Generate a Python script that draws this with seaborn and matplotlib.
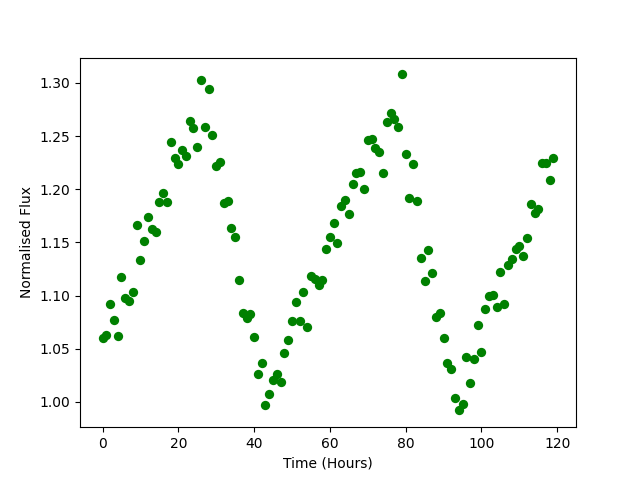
import matplotlib

matplotlib.use('Agg')
import matplotlib.pyplot as plt
import pandas as pd
import seaborn as sns

hours = list(range(120))

flux = [
    1.060, 1.063, 1.092, 1.077, 1.062, 1.117, 1.098, 1.095, 1.103, 1.166,
    1.133, 1.151, 1.174, 1.163, 1.160, 1.188, 1.196, 1.188, 1.244, 1.229,
    1.224, 1.237, 1.231, 1.264, 1.258, 1.240, 1.303, 1.259, 1.294, 1.251,
    1.222, 1.226, 1.187, 1.189, 1.164, 1.155, 1.115, 1.084, 1.079, 1.083,
    1.061, 1.026, 1.037, 0.997, 1.007, 1.021, 1.026, 1.019, 1.046, 1.058,
    1.076, 1.094, 1.076, 1.103, 1.070, 1.118, 1.116, 1.110, 1.115, 1.144,
    1.155, 1.168, 1.149, 1.184, 1.190, 1.177, 1.205, 1.215, 1.216, 1.200,
    1.246, 1.247, 1.239, 1.235, 1.215, 1.263, 1.272, 1.266, 1.259, 1.308,
    1.233, 1.192, 1.224, 1.189, 1.135, 1.114, 1.143, 1.121, 1.080, 1.084,
    1.060, 1.037, 1.031, 1.004, 0.992, 0.998, 1.042, 1.018, 1.040, 1.072,
    1.047, 1.087, 1.100, 1.101, 1.089, 1.122, 1.092, 1.129, 1.134, 1.144,
    1.147, 1.137, 1.154, 1.186, 1.178, 1.181, 1.225, 1.225, 1.209, 1.229,
]


def main():
    df = pd.DataFrame({'time': hours, 'flux': flux})

    fig, ax = plt.subplots(figsize=(6.4, 4.8), dpi=100)
    sns.scatterplot(data=df, x='time', y='flux', color='green', s=45,
                    linewidth=0, ax=ax)
    ax.set_xlabel('Time (Hours)')
    ax.set_ylabel('Normalised Flux')
    ax.set_xticks([0, 20, 40, 60, 80, 100, 120])
    plt.savefig('out.png', dpi=100)
    plt.close()


if __name__ == '__main__':
    main()
